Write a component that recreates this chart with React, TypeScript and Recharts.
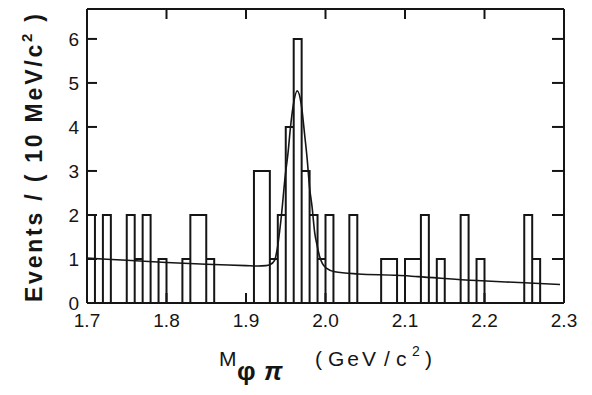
import React from 'react';
import { ComposedChart, Line, XAxis, YAxis } from 'recharts';

// Histogram: events per 10 MeV bin, bins start at 1.70 GeV
const binStart = 1.7;
const binWidth = 0.01;
const counts = [
  2, 0, 2, 0, 0, 2, 1, 2, 0, 1,
  0, 0, 1, 2, 2, 1, 0, 0, 0, 0,
  0, 3, 3, 1, 2, 4, 6, 3, 2, 1,
  2, 0, 0, 2, 0, 0, 0, 1, 1, 0,
  1, 1, 2, 0, 1, 0, 0, 2, 0, 1,
  0, 0, 0, 0, 0, 2, 1, 0, 0, 0,
];

// Fit curve
const fitMass = [
  1.7, 1.75, 1.8, 1.85, 1.9, 1.915, 1.925, 1.93, 1.936, 1.939, 1.9444, 1.9494, 1.9528,
  1.956, 1.9591, 1.9645, 1.9696, 1.9739, 1.9767, 1.9801, 1.983, 1.9864, 1.9895, 1.9927,
  1.996, 2.001, 2.0116, 2.041, 2.09, 2.116, 2.19, 2.25, 2.295,
];
const fitValue = [
  1.02, 0.97, 0.92, 0.88, 0.85, 0.84, 0.85, 0.87, 0.97, 1.2, 1.96, 2.9, 3.4,
  4.0, 4.45, 4.82, 4.5, 3.8, 3.32, 2.6, 2.2, 1.6, 1.3, 1.05,
  0.9, 0.79, 0.71, 0.66, 0.63, 0.6, 0.51, 0.46, 0.42,
];

const xTicks = [1.7, 1.8, 1.9, 2.0, 2.1, 2.2, 2.3];
const xTickLabels = ['1.7', '1.8', '1.9', '2.0', '2.1', '2.2', '2.3'];
const topTicks = [1.8, 1.9, 2.0, 2.1, 2.2];
const yTicks = [0, 1, 2, 3, 4, 5, 6];

const INK = '#151515';
const FONT = '"Liberation Sans", Arial, sans-serif';

function buildHistogram() {
  const pts: { x: number; y: number }[] = [{ x: binStart, y: 0 }];
  counts.forEach((c, i) => {
    const x0 = binStart + i * binWidth;
    const x1 = x0 + binWidth;
    const prev = i > 0 ? counts[i - 1] : 0;
    const next = i < counts.length - 1 ? counts[i + 1] : 0;
    if (c !== prev) {
      pts.push({ x: x0, y: 0 });
      pts.push({ x: x0, y: c });
    }
    pts.push({ x: x1, y: c });
    if (c !== next) pts.push({ x: x1, y: 0 });
  });
  return pts;
}

const histData = buildHistogram();
const fitData = fitMass.map((m, i) => ({ x: m, y: fitValue[i] }));

const BottomTick = (p: any) => {
  const { x, y, payload } = p;
  const v = payload.value;
  const idx = xTicks.findIndex((t) => Math.abs(t - v) < 1e-6);
  const inner = v > 1.75 && v < 2.25;
  return (
    <g>
      {inner && <line x1={x} x2={x} y1={y} y2={y - 10} stroke={INK} strokeWidth={2} />}
      <text x={x} y={y + 24} textAnchor="middle" fontSize={19} fontFamily={FONT} fill={INK}>
        {idx >= 0 ? xTickLabels[idx] : ''}
      </text>
    </g>
  );
};

const TopTick = (p: any) => {
  const { x, y } = p;
  return <line x1={x} x2={x} y1={y} y2={y + 10} stroke={INK} strokeWidth={2} />;
};

const LeftTick = (p: any) => {
  const { x, y, payload } = p;
  const v = payload.value;
  return (
    <g>
      {v > 0 && <line x1={x} x2={x + 10} y1={y} y2={y} stroke={INK} strokeWidth={2} />}
      <text x={x - 8} y={y + 7} textAnchor="end" fontSize={19} fontFamily={FONT} fill={INK}>
        {String(v)}
      </text>
    </g>
  );
};

const RightTick = (p: any) => {
  const { x, y, payload } = p;
  if (payload.value <= 0) return <g />;
  return <line x1={x} x2={x - 12} y1={y} y2={y} stroke={INK} strokeWidth={2} />;
};

export default function App() {
  return (
    <div style={{ width: 592, height: 395, background: '#fff', position: 'relative' }}>
      <style>{'body{margin:0;background:#fff}'}</style>
      <ComposedChart
        width={592}
        height={395}
        margin={{ top: 8, right: 27, bottom: 91, left: 86 }}
      >
        <XAxis
          xAxisId="b"
          type="number"
          dataKey="x"
          orientation="bottom"
          domain={[1.7, 2.3]}
          ticks={xTicks}
          interval={0}
          allowDataOverflow
          height={1}
          tickSize={0}
          tickMargin={0}
          tickLine={false}
          tick={<BottomTick />}
          axisLine={{ stroke: INK, strokeWidth: 2 }}
        />
        <XAxis
          xAxisId="t"
          type="number"
          dataKey="x"
          orientation="top"
          domain={[1.7, 2.3]}
          ticks={topTicks}
          interval={0}
          allowDataOverflow
          height={1}
          tickSize={0}
          tickMargin={0}
          tickLine={false}
          tick={<TopTick />}
          axisLine={{ stroke: INK, strokeWidth: 2 }}
        />
        <YAxis
          yAxisId="l"
          type="number"
          orientation="left"
          domain={[0, 6.68]}
          ticks={yTicks}
          interval={0}
          allowDataOverflow
          width={1}
          tickSize={0}
          tickMargin={0}
          tickLine={false}
          tick={<LeftTick />}
          axisLine={{ stroke: INK, strokeWidth: 2 }}
        />
        <YAxis
          yAxisId="r"
          type="number"
          orientation="right"
          domain={[0, 6.68]}
          ticks={yTicks}
          interval={0}
          allowDataOverflow
          width={1}
          tickSize={0}
          tickMargin={0}
          tickLine={false}
          tick={<RightTick />}
          axisLine={{ stroke: INK, strokeWidth: 2 }}
        />
        <Line
          xAxisId="t"
          yAxisId="r"
          data={fitData}
          dataKey="y"
          stroke="none"
          dot={false}
          isAnimationActive={false}
          legendType="none"
        />
        <Line
          xAxisId="b"
          yAxisId="l"
          data={histData}
          dataKey="y"
          type="linear"
          stroke={INK}
          strokeWidth={2}
          strokeLinejoin="miter"
          dot={false}
          isAnimationActive={false}
        />
        <Line
          xAxisId="b"
          yAxisId="l"
          data={fitData}
          dataKey="y"
          type="monotone"
          stroke={INK}
          strokeWidth={1.6}
          dot={false}
          isAnimationActive={false}
        />
      </ComposedChart>
      <svg
        width={592}
        height={395}
        style={{ position: 'absolute', left: 0, top: 0, pointerEvents: 'none' }}
      >
        <text
          transform="rotate(-90)"
          x={-158}
          y={42}
          textAnchor="middle"
          fontSize={23}
          fontWeight="bold"
          fontFamily={FONT}
          fill={INK}
          textLength={288}
          lengthAdjust="spacing"
        >
          Events / ( 10 MeV/c
          <tspan fontSize={15} dy={-10}>2</tspan>
          <tspan dy={10}> )</tspan>
        </text>
        <text y={366} fontSize={21} fontFamily={FONT} fill={INK}>
          <tspan x={219}>M</tspan>
          <tspan x={237} dy={14} fontSize={26} fontWeight="bold">φ</tspan>
          <tspan x={264} fontSize={26} fontWeight="bold" fontStyle="italic">π</tspan>
          <tspan x={315} dy={-14}>(</tspan>
          <tspan x={328} textLength={48} lengthAdjust="spacing">GeV</tspan>
          <tspan x={384}>/</tspan>
          <tspan x={396}>c</tspan>
          <tspan x={412} dy={-10} fontSize={14}>2</tspan>
          <tspan x={425} dy={10}>)</tspan>
        </text>
      </svg>
    </div>
  );
}
